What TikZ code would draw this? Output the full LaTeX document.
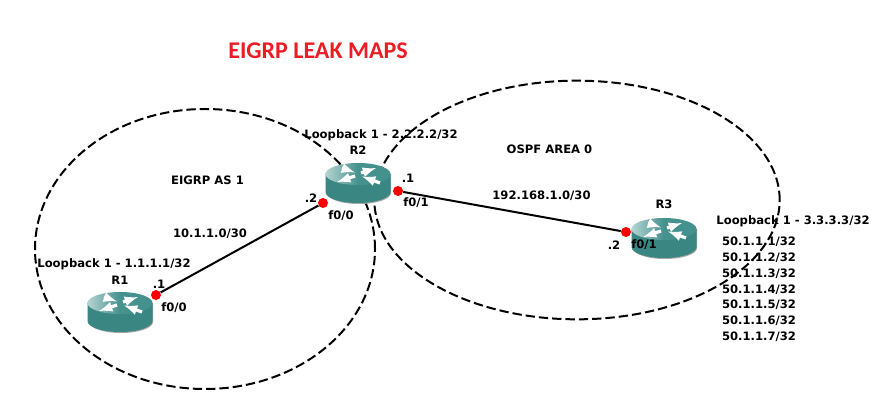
\documentclass[tikz,border=0pt]{standalone}
\usepackage{fontspec}
\setmainfont{DejaVu Sans}
\newfontfamily\titlefont{Carlito}
\usepackage{tikz}
\usetikzlibrary{shapes.geometric}
\definecolor{routerside}{HTML}{3A8683}
\definecolor{routertop}{HTML}{44918E}
\definecolor{routerlight}{HTML}{B5D3D2}
\definecolor{titlered}{HTML}{ED1C24}
\tikzset{
  lbl/.style={font=\fontsize{8.7}{10}\selectfont\bfseries,inner sep=0},
  dot/.style={fill=red,circle,minimum size=7.5pt,inner sep=0},
  zone/.style={draw,line width=1.5pt,dash pattern=on 7pt off 3pt},
  link/.style={line width=1.5pt},
  routernode/.style={minimum width=50pt,minimum height=34pt,inner sep=0,
    path picture={
      \begin{scope}[shift={(path picture bounding box.center)}]
        \fill[black!35] (-31,-9) -- (-31,10) arc[x radius=32,y radius=11,start angle=180,end angle=0] -- (33,-9) -- cycle;
        \fill[routerside] (-32.5,-9) -- (-32.5,9) arc[x radius=32.5,y radius=11,start angle=180,end angle=0] -- (32.5,-9) -- cycle;
        \shade[left color=routerlight,right color=routertop,middle color=routertop] (0,-9) ellipse[x radius=32.5,y radius=11];
        \draw[white,line width=2.4pt,-latex] (-16,-15) -- (-3,-10.5);
        \draw[white,line width=2.4pt,-latex] (-3,-7) -- (-21,-1);
        \draw[white,line width=2.4pt,-latex] (3,-10) -- (18,-15);
        \draw[white,line width=2.4pt,-latex] (22,0) -- (4,-6.5);
      \end{scope}
    }},
}
\begin{document}
\begin{tikzpicture}[x=0.75pt,y=-0.75pt]
  \useasboundingbox (0,0) rectangle (891,416);
  \node[zone,ellipse,minimum width=255pt,minimum height=210pt,inner sep=0] (as1) at (205,249) {};
  \node[zone,ellipse,minimum width=304pt,minimum height=179pt,inner sep=0] (area0) at (577,200) {};
  \node[routernode] (R1) at (120,312) {};
  \node[routernode] (R2) at (358,183) {};
  \node[routernode] (R3) at (664,238) {};
  \node[dot] (d1) at (156,295) {};
  \node[dot] (d2) at (323,203) {};
  \node[dot] (d3) at (398,191) {};
  \node[dot] (d4) at (626,232) {};
  \draw[link] (d1) -- (d2) (d3) -- (d4);
  \node[font=\titlefont\fontsize{18}{20}\selectfont\bfseries,text=titlered,inner sep=0] (title) at (318,51) {EIGRP LEAK MAPS};
  \node[lbl] (as1lbl) at (207.5,180) {EIGRP AS 1};
  \node[lbl] (area0lbl) at (549.5,149) {OSPF AREA 0};
  \node[lbl] (net12) at (210,234) {10.1.1.0/30};
  \node[lbl] (net23) at (541.5,196) {192.168.1.0/30};
  % routers
  \node[lbl] (lo1) at (114,264) {Loopback 1 - 1.1.1.1/32};
  \node[lbl] (name1) at (120,280) {R1};
  \node[lbl] (ip1) at (159,284) {.1};
  \node[lbl] (if1) at (174,308) {f0/0};
  \node[lbl] (lo2) at (381,135) {Loopback 1 - 2.2.2.2/32};
  \node[lbl] (name2) at (358,150) {R2};
  \node[lbl] (ip2a) at (311,198) {.2};
  \node[lbl] (if2a) at (341,216) {f0/0};
  \node[lbl] (ip2b) at (408,178) {.1};
  \node[lbl] (if2b) at (416,203) {f0/1};
  \node[lbl] (lo3) at (793,221) {Loopback 1 - 3.3.3.3/32};
  \node[lbl] (name3) at (664,204) {R3};
  \node[lbl] (ip3) at (614,245) {.2};
  \node[lbl] (if3) at (644,245) {f0/1};
  \foreach \i/\ypos in {1/242,2/258,3/274,4/290,5/305,6/321,7/337}
    \node[lbl] (net\i) at (759,\ypos) {50.1.1.\i/32};
\end{tikzpicture}
\end{document}
